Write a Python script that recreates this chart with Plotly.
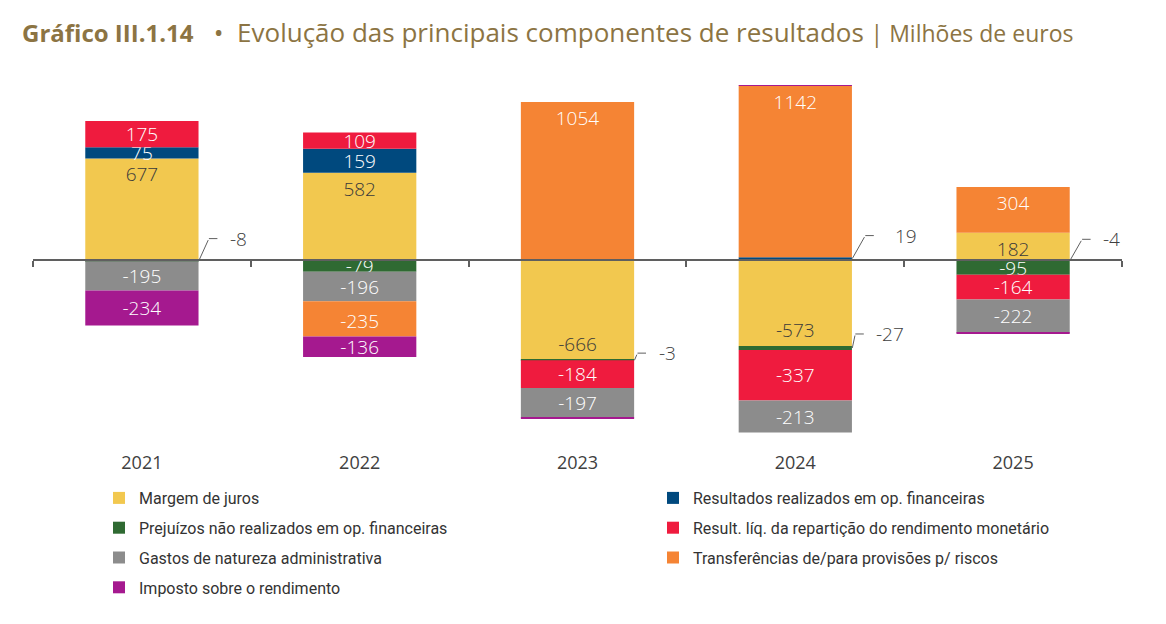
import plotly.graph_objects as go

years = ["2021", "2022", "2023", "2024", "2025"]

margem = [677, 582, -666, -573, 182]
resultados = [75, 159, None, 19, -4]
prejuizos = [-8, -79, -3, -27, -95]
result_liq = [175, 109, -184, -337, -164]
gastos = [-195, -196, -197, -213, -222]
transferencias = [None, -235, 1054, 1142, 304]
imposto = [-234, -136, -5, 5, -5]

# name, values, colour, label colour, label anchor, legend column
series = [
    ("Margem de juros", margem, "#F2C84F", "#3a3a3a", "end", "legend"),
    ("Resultados realizados em op. financeiras", resultados, "#00497E", "white", "middle", "legend2"),
    ("Prejuízos não realizados em op. financeiras", prejuizos, "#2F6A32", "white", "middle", "legend"),
    ("Result. líq. da repartição do rendimento monetário", result_liq, "#EF1B3E", "white", "middle", "legend2"),
    ("Gastos de natureza administrativa", gastos, "#8C8C8C", "white", "middle", "legend"),
    ("Transferências de/para provisões p/ riscos", transferencias, "#F58434", "white", "end", "legend2"),
    ("Imposto sobre o rendimento", imposto, "#A5198F", "white", "middle", "legend"),
]

# small values shown with a leader line instead of an in-bar label
callouts = [
    ("2021", 2, 10, -22),
    ("2024", 1, 13, -23),
    ("2023", 2, 3, -7),
    ("2024", 2, 3, -14),
    ("2025", 1, 12, -21),
]

FONT = "Open Sans"
LEGEND_FONT = "Roboto"
GREY = "#5f5f5f"
TEXT = "#404040"

# the page adds an 8px body margin, so the figure is 8px smaller
W, H = 1158, 616

fig = go.Figure()

callout_keys = {(yr, idx) for yr, idx, _, _ in callouts}
for idx, (name, values, color, tcolor, anchor, legend) in enumerate(series):
    labels = []
    for yr, v in zip(years, values):
        if v is None or (yr, idx) in callout_keys or abs(v) < 10:
            labels.append("")
        else:
            labels.append(f"{v}")
    fig.add_trace(
        go.Bar(
            name=name,
            x=years,
            y=values,
            marker=dict(color=color, line=dict(width=0)),
            text=labels,
            textposition="inside",
            insidetextanchor=anchor,
            constraintext="none",
            textangle=0,
            textfont=dict(family=FONT, size=19, color=tcolor, weight=300),
            legend=legend,
            legendgroup=name,
            hoverinfo="skip",
        )
    )

# invisible trace that carries the zero axis with boundary ticks
fig.add_trace(
    go.Scatter(
        x=years,
        y=[0] * len(years),
        xaxis="x2",
        mode="markers",
        marker=dict(opacity=0),
        showlegend=False,
        hoverinfo="skip",
    )
)


def segment_middle(year, idx):
    col = years.index(year)
    value = series[idx][1][col]
    base = 0
    for s in series[:idx]:
        v = s[1][col]
        if v is not None and (v >= 0) == (value >= 0):
            base += v
    return col, base + value / 2, value


half_bar = 57
for yr, idx, dx, dy in callouts:
    col, y, value = segment_middle(yr, idx)
    fig.add_annotation(
        x=col, y=y, xshift=half_bar, text="", showarrow=True,
        ax=dx, ay=dy, arrowhead=0, arrowwidth=1, arrowcolor=GREY, standoff=0,
    )
    fig.add_annotation(
        x=col, y=y, xshift=half_bar + dx, yshift=-dy, text="", showarrow=True,
        ax=10, ay=0, arrowhead=0, arrowwidth=1, arrowcolor=GREY, standoff=0,
    )
    gap = 9 if value < 0 else 18
    fig.add_annotation(
        x=col, y=y, xshift=half_bar + dx + 10 + gap, yshift=-dy,
        text=f"{value}", showarrow=False, xanchor="left", yanchor="middle",
        font=dict(family=FONT, size=19, color=TEXT, weight=300),
    )

y_range = [-1200, 1200]
x_range = [-0.5, len(years) - 0.5]

legend_style = dict(
    orientation="v",
    xanchor="left",
    yref="container",
    y=1 - 473 / H,
    yanchor="top",
    traceorder="grouped",
    tracegroupgap=6,
    font=dict(family=LEGEND_FONT, size=16, color="#333333"),
    itemclick=False,
    itemdoubleclick=False,
    bgcolor="rgba(0,0,0,0)",
)

fig.update_layout(
    width=W,
    height=H,
    barmode="relative",
    bargap=0.48,
    paper_bgcolor="white",
    plot_bgcolor="white",
    margin=dict(l=25, r=44, t=72, b=184, autoexpand=False),
    title=dict(
        text="<span style='font-size:24px'><b>Gráfico III.1.14</b></span>"
        "\u00a0\u00a0\u00a0•\u00a0\u00a0Evolução das principais componentes de resultados"
        "\u00a0<span style='font-size:23px'>| Milhões de euros</span>",
        x=14 / W,
        xanchor="left",
        y=1 - 25 / H,
        yanchor="middle",
        pad=dict(l=0, r=0, t=0, b=0),
        font=dict(family=FONT, size=26, color="#8C7443"),
    ),
    xaxis=dict(
        type="category",
        categoryorder="array",
        categoryarray=years,
        range=x_range,
        showline=False,
        showgrid=False,
        ticks="",
        ticklabelstandoff=10,
        tickfont=dict(family=FONT, size=18, color=TEXT),
    ),
    xaxis2=dict(
        type="category",
        categoryorder="array",
        categoryarray=years,
        range=x_range,
        overlaying="x",
        anchor="free",
        position=(0 - y_range[0]) / (y_range[1] - y_range[0]),
        showline=True,
        linecolor=GREY,
        linewidth=1.5,
        showgrid=False,
        ticks="outside",
        tickson="boundaries",
        ticklen=6,
        tickwidth=1.5,
        tickcolor=GREY,
        showticklabels=False,
    ),
    yaxis=dict(
        range=y_range,
        visible=False,
        showgrid=False,
        zeroline=False,
    ),
    legend=dict(legend_style, x=(91 - 25) / 1089),
    legend2=dict(legend_style, x=(645 - 25) / 1089),
    showlegend=True,
)

fig.write_html("out.html")
